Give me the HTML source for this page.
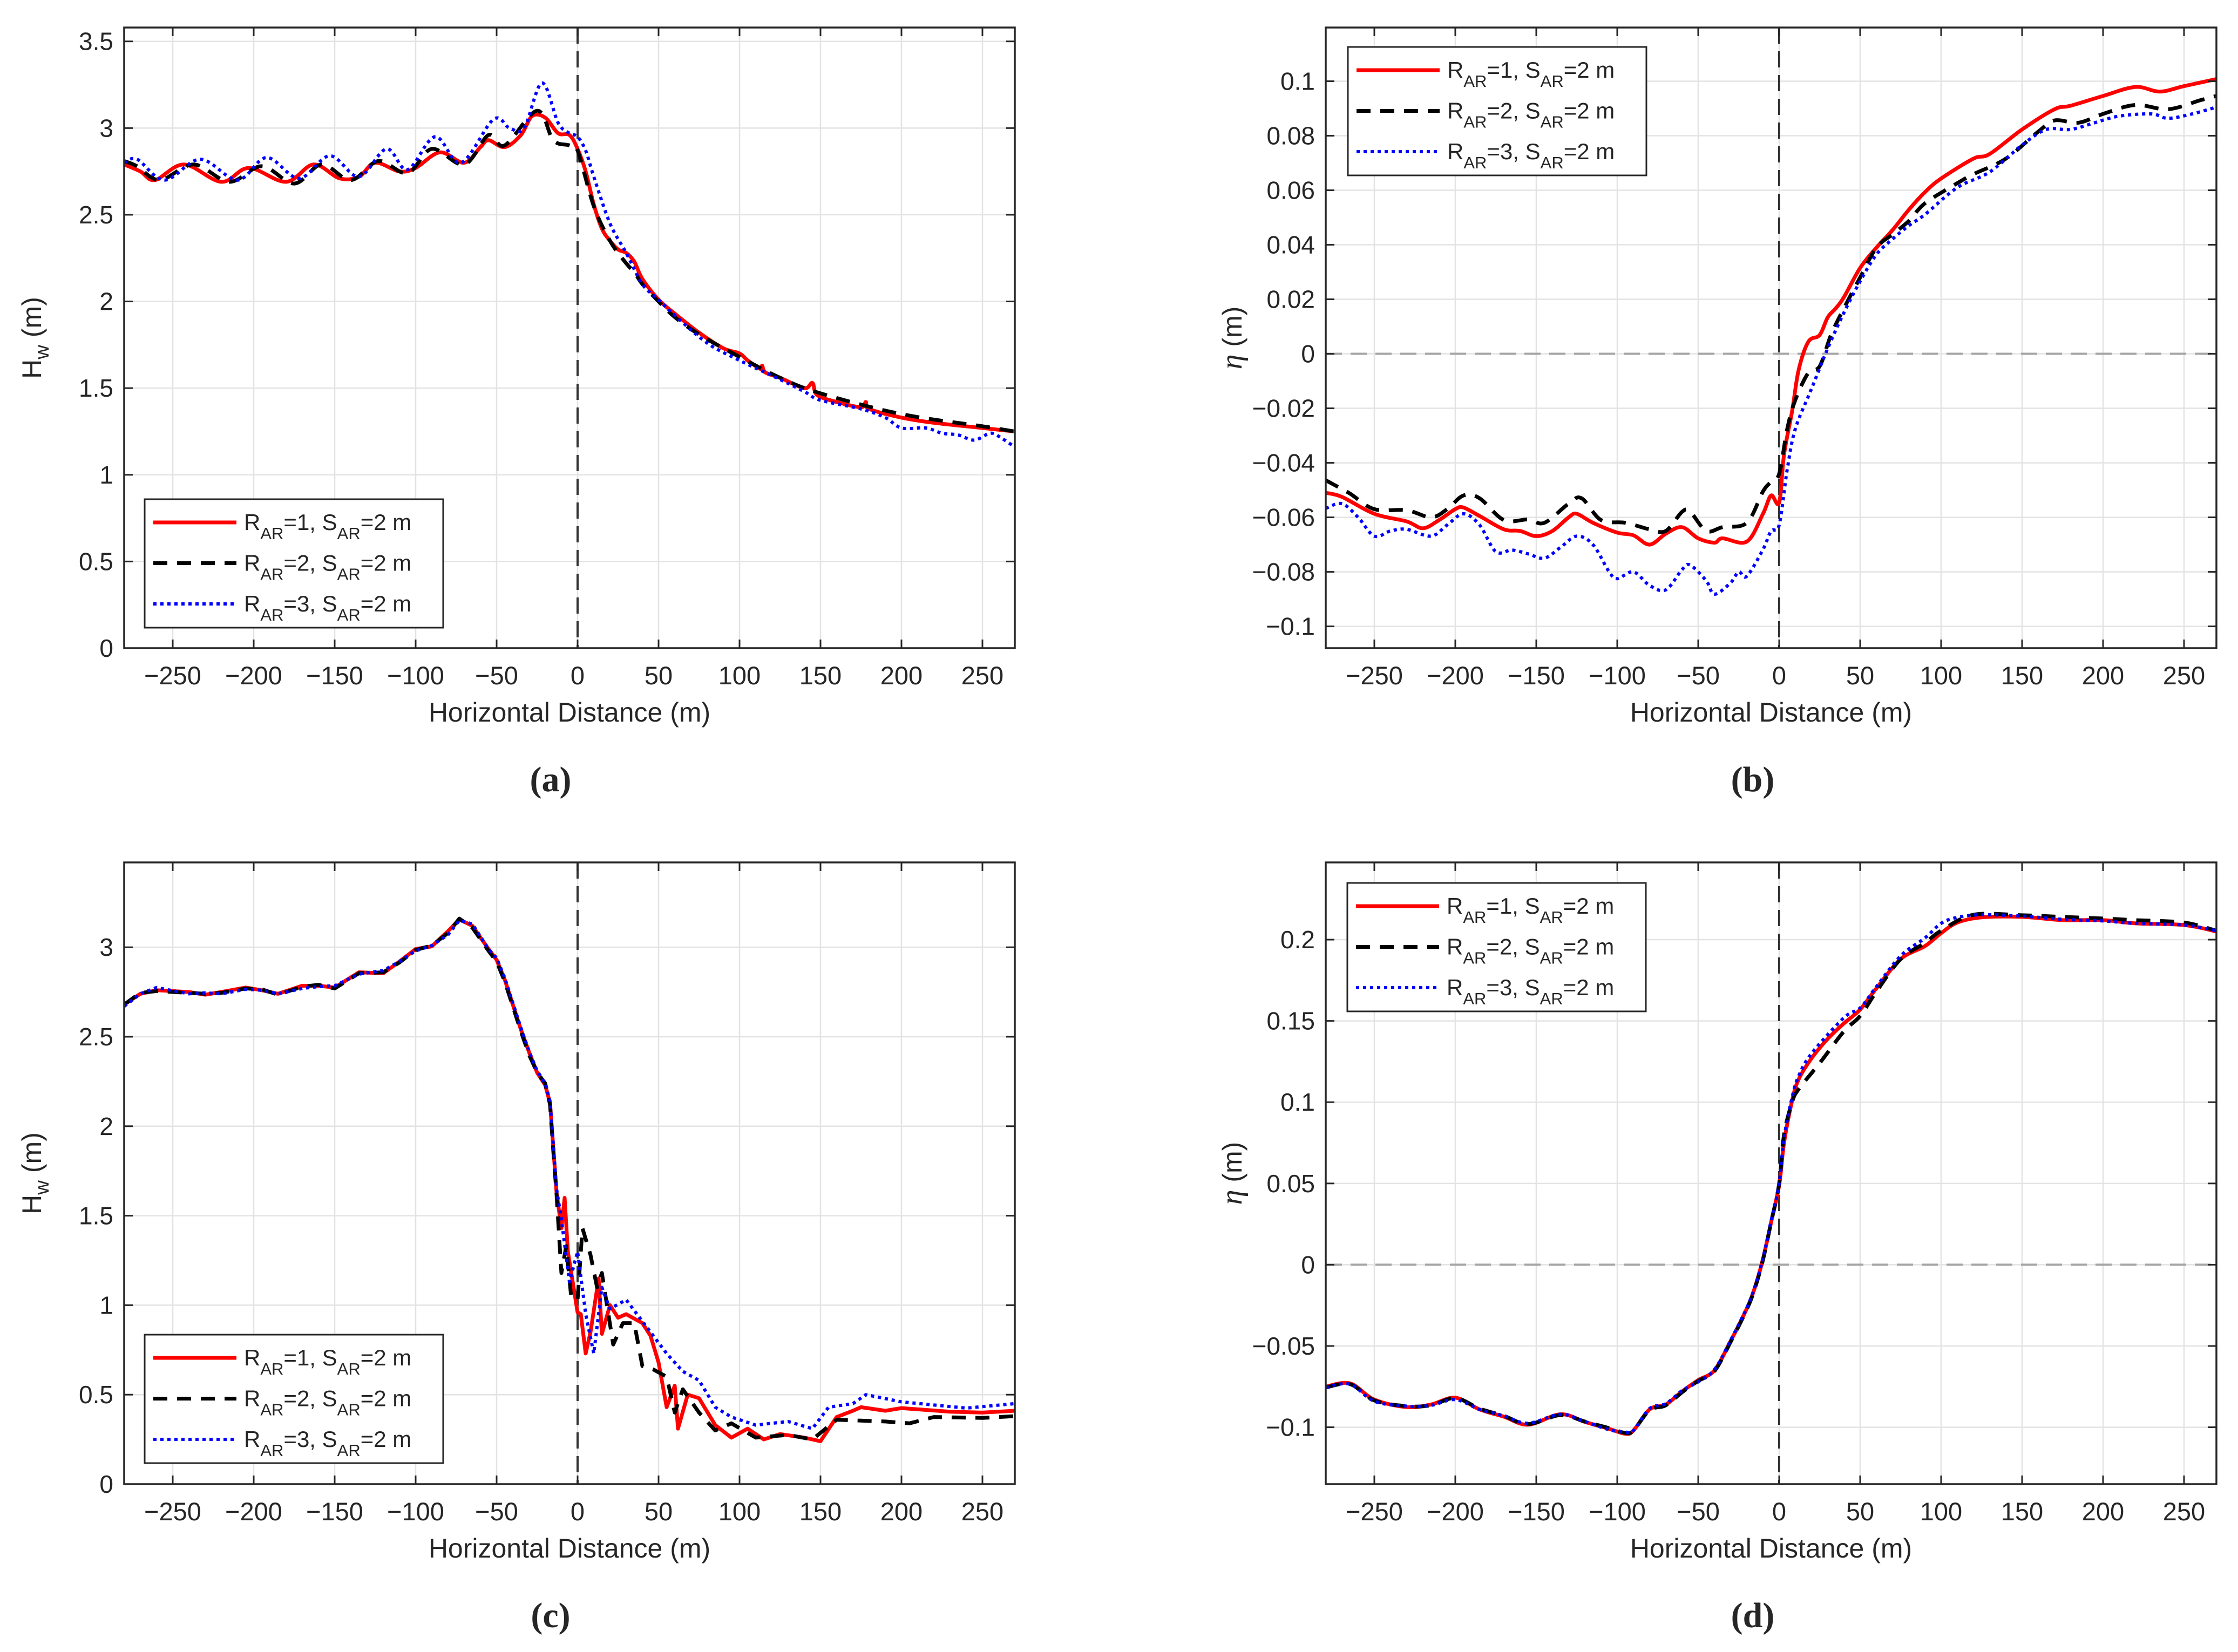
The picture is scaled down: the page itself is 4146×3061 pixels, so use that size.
<!DOCTYPE html>
<html><head><meta charset="utf-8">
<style>
html,body{margin:0;padding:0;background:#fff;}
svg{display:block;}
text{fill:#262626;}
</style></head>
<body>
<svg id="fig" xmlns="http://www.w3.org/2000/svg" width="4146" height="3061" viewBox="0 0 4146 3061" font-family="Liberation Sans, sans-serif">
<rect x="0" y="0" width="4146" height="3061" fill="#fff"/>
</svg>
<script>
// ---------- DATA ----------
const xTicks = [-250,-200,-150,-100,-50,0,50,100,150,200,250];
const yTicksA = [0,0.5,1,1.5,2,2.5,3,3.5];
const yTicksB = [-0.1,-0.08,-0.06,-0.04,-0.02,0,0.02,0.04,0.06,0.08,0.1];
const yTicksC = [0,0.5,1,1.5,2,2.5,3];
const yTicksD = [-0.1,-0.05,0,0.05,0.1,0.15,0.2];
const legendLabels = ["1","2","3"];

// Panel a
const aRedX = [-280,-270,-261,-243,-220,-203,-180,-163,-147,-135,-125,-110,-100,-85,-70,-60,-55,-45,-35,-28,-20,-12,-5,0,5,10,15,20,25,30,35,40,50,60,75,90,100,105,113,114,116,125,140,145,148,160,175,178,180,200,220,250,270];
const aRedY = [2.79,2.75,2.70,2.79,2.69,2.77,2.69,2.79,2.71,2.72,2.80,2.75,2.77,2.86,2.80,2.89,2.93,2.89,2.96,3.07,3.06,2.97,2.96,2.88,2.75,2.56,2.42,2.35,2.30,2.28,2.23,2.13,2.01,1.93,1.82,1.73,1.70,1.66,1.61,1.63,1.59,1.56,1.50,1.53,1.46,1.42,1.39,1.42,1.38,1.33,1.30,1.27,1.25];
const aBlkX = [-280,-272,-258,-237,-215,-195,-175,-158,-140,-123,-105,-90,-70,-55,-45,-25,-15,-5,0,10,20,30,35,40,50,60,75,100,125,150,200,250,270];
const aBlkY = [2.81,2.78,2.70,2.79,2.69,2.78,2.68,2.79,2.70,2.81,2.74,2.88,2.79,2.96,2.90,3.10,2.93,2.90,2.87,2.55,2.35,2.22,2.17,2.10,2.00,1.91,1.81,1.68,1.56,1.47,1.35,1.28,1.25];
const aBluX = [-280,-272,-255,-233,-210,-192,-172,-153,-135,-118,-105,-88,-72,-52,-42,-33,-22,-12,-5,0,5,10,20,30,40,50,60,80,100,125,140,150,175,190,200,215,225,235,245,255,262,270];
const aBluY = [2.80,2.82,2.70,2.82,2.70,2.83,2.71,2.84,2.72,2.88,2.76,2.95,2.80,3.05,3.00,3.00,3.26,3.03,2.97,2.95,2.87,2.72,2.45,2.28,2.10,2.01,1.92,1.76,1.66,1.55,1.48,1.43,1.38,1.33,1.27,1.27,1.24,1.23,1.20,1.24,1.21,1.16];

// Panel b
const bRedX = [-280,-270,-250,-230,-220,-210,-200,-195,-185,-170,-160,-150,-140,-130,-125,-115,-100,-90,-80,-70,-60,-50,-40,-35,-20,-10,-5,0,3,8,12,18,25,30,35,40,50,60,70,80,90,100,120,130,150,170,180,200,220,235,250,270];
const bRedY = [-0.051,-0.0525,-0.0587,-0.0615,-0.064,-0.061,-0.057,-0.0564,-0.0595,-0.0644,-0.065,-0.0669,-0.065,-0.060,-0.0587,-0.062,-0.0656,-0.0666,-0.070,-0.066,-0.0636,-0.0677,-0.0693,-0.0677,-0.0689,-0.0587,-0.052,-0.0546,-0.037,-0.021,-0.006,0.0044,0.0069,0.0134,0.0167,0.0208,0.0315,0.0389,0.0454,0.0528,0.0593,0.0643,0.0716,0.0733,0.0823,0.0897,0.091,0.0946,0.0979,0.0962,0.0982,0.1008];
const bBlkX = [-280,-275,-265,-250,-230,-215,-205,-195,-185,-170,-155,-145,-130,-122,-110,-95,-80,-70,-60,-55,-45,-35,-20,-10,-5,0,5,10,18,25,32,40,50,60,70,80,90,110,120,140,160,170,185,200,220,240,260,270];
const bBlkY = [-0.0464,-0.048,-0.0513,-0.057,-0.0574,-0.060,-0.057,-0.052,-0.053,-0.061,-0.0608,-0.062,-0.055,-0.053,-0.061,-0.062,-0.0644,-0.065,-0.058,-0.0579,-0.065,-0.0636,-0.062,-0.0505,-0.047,-0.044,-0.0275,-0.0169,-0.007,-0.0046,0.0069,0.0167,0.028,0.0389,0.0438,0.0487,0.0552,0.0626,0.0659,0.0716,0.0815,0.0856,0.0848,0.088,0.0913,0.0897,0.093,0.0946];
const bBluX = [-280,-270,-260,-250,-240,-230,-215,-205,-195,-185,-175,-165,-155,-145,-135,-125,-115,-105,-100,-90,-80,-70,-60,-55,-45,-40,-30,-25,-20,-10,-5,0,5,10,20,30,40,50,60,70,80,90,110,130,150,165,180,195,210,230,240,255,270];
const bBluY = [-0.0567,-0.055,-0.060,-0.0669,-0.065,-0.0644,-0.0669,-0.0628,-0.0587,-0.0628,-0.0726,-0.072,-0.0734,-0.075,-0.071,-0.0669,-0.070,-0.080,-0.0825,-0.080,-0.085,-0.0866,-0.0792,-0.0775,-0.0833,-0.0882,-0.084,-0.080,-0.0816,-0.0718,-0.065,-0.0628,-0.0423,-0.0275,-0.0128,0.002,0.0151,0.0266,0.0364,0.0421,0.047,0.0511,0.061,0.0667,0.0766,0.0823,0.0823,0.0848,0.0872,0.088,0.0864,0.088,0.0905];

// Panel c
const cRedX = [-280,-270,-260,-240,-230,-220,-205,-195,-185,-170,-160,-150,-135,-120,-110,-100,-90,-80,-73,-65,-55,-50,-45,-40,-35,-30,-25,-20,-17,-15,-13,-10,-8,-6,-3,0,2,5,8,13,15,20,25,30,40,45,50,55,60,62,68,75,85,95,105,115,125,140,150,160,170,175,190,200,230,250,270];
const cRedY = [2.68,2.74,2.76,2.75,2.735,2.75,2.775,2.76,2.74,2.785,2.785,2.775,2.86,2.855,2.92,2.99,3.005,3.09,3.155,3.12,2.99,2.93,2.82,2.68,2.54,2.415,2.30,2.23,2.13,1.88,1.63,1.43,1.60,1.30,1.13,0.96,0.95,0.73,0.85,1.15,0.84,1.00,0.93,0.95,0.90,0.83,0.68,0.43,0.55,0.31,0.50,0.48,0.33,0.26,0.31,0.25,0.28,0.26,0.24,0.375,0.41,0.43,0.41,0.425,0.405,0.40,0.41];
const cBlkX = [-280,-270,-260,-240,-230,-220,-205,-195,-185,-170,-160,-150,-135,-120,-110,-100,-90,-80,-73,-65,-55,-50,-45,-40,-35,-30,-25,-20,-17,-15,-13,-10,-7,-4,0,3,8,12,15,22,28,35,40,47,55,60,65,75,85,95,110,130,145,160,175,190,205,220,250,270];
const cBlkY = [2.68,2.745,2.755,2.745,2.74,2.745,2.77,2.765,2.735,2.78,2.79,2.77,2.855,2.86,2.915,2.985,3.01,3.08,3.16,3.11,2.98,2.92,2.81,2.67,2.53,2.40,2.30,2.24,2.12,1.86,1.62,1.18,1.33,1.05,1.03,1.43,1.28,1.10,1.18,0.78,0.90,0.90,0.66,0.64,0.60,0.40,0.53,0.40,0.30,0.34,0.26,0.275,0.25,0.36,0.355,0.35,0.34,0.375,0.37,0.38];
const cBluX = [-280,-270,-260,-240,-230,-220,-205,-195,-185,-170,-160,-150,-135,-120,-110,-100,-90,-80,-73,-65,-55,-50,-45,-40,-35,-30,-25,-20,-17,-15,-13,-10,-5,0,5,10,15,20,30,45,55,65,75,85,95,110,130,145,155,170,178,200,240,270];
const cBluY = [2.67,2.74,2.775,2.74,2.745,2.74,2.765,2.76,2.74,2.77,2.78,2.785,2.85,2.87,2.92,2.98,3.01,3.07,3.15,3.13,2.99,2.94,2.83,2.69,2.55,2.42,2.31,2.24,2.14,1.90,1.65,1.48,1.13,1.30,0.95,0.73,1.10,0.98,1.03,0.85,0.73,0.63,0.58,0.43,0.375,0.33,0.35,0.31,0.43,0.45,0.50,0.46,0.425,0.45];

// Panel d
const dRedX = [-280,-265,-250,-230,-215,-200,-185,-170,-155,-135,-120,-105,-95,-90,-80,-70,-60,-50,-40,-30,-20,-15,-10,-5,0,3,8,12,20,30,40,50,60,75,90,100,110,125,150,175,200,220,250,270];
const dRedY = [-0.075,-0.073,-0.083,-0.0876,-0.086,-0.0818,-0.089,-0.0935,-0.0984,-0.092,-0.0967,-0.101,-0.104,-0.102,-0.089,-0.086,-0.078,-0.071,-0.065,-0.047,-0.027,-0.014,0.0036,0.026,0.049,0.075,0.101,0.114,0.127,0.139,0.1485,0.157,0.17,0.188,0.196,0.204,0.2105,0.2137,0.214,0.212,0.212,0.21,0.209,0.205];
const dBlkX = [-280,-265,-250,-230,-215,-200,-185,-170,-155,-135,-120,-105,-95,-90,-80,-70,-60,-50,-40,-30,-20,-15,-10,-5,0,3,8,12,25,40,50,60,75,90,100,120,150,175,200,220,250,270];
const dBlkY = [-0.0755,-0.0735,-0.0835,-0.087,-0.0865,-0.082,-0.0885,-0.093,-0.098,-0.0925,-0.0965,-0.1005,-0.1035,-0.102,-0.0895,-0.0865,-0.0785,-0.0715,-0.0655,-0.0475,-0.0275,-0.0145,0.003,0.026,0.05,0.08,0.1,0.108,0.124,0.1436,0.153,0.168,0.188,0.198,0.2055,0.2153,0.215,0.214,0.213,0.212,0.2105,0.2055];
const dBluX = [-280,-265,-250,-230,-215,-200,-185,-170,-155,-135,-120,-105,-95,-90,-80,-70,-60,-50,-40,-30,-20,-15,-10,-5,0,3,8,12,20,40,50,60,75,90,100,110,125,150,175,200,220,250,270];
const dBluY = [-0.0755,-0.0735,-0.084,-0.087,-0.0865,-0.083,-0.089,-0.093,-0.0975,-0.092,-0.0965,-0.1015,-0.103,-0.102,-0.0885,-0.0855,-0.0775,-0.072,-0.0645,-0.0465,-0.0265,-0.0135,0.004,0.027,0.05,0.078,0.103,0.116,0.130,0.152,0.158,0.171,0.19,0.201,0.21,0.2137,0.2153,0.2145,0.2125,0.2115,0.21,0.209,0.2055];

// ---------- DRAW ----------
const NS = "http://www.w3.org/2000/svg";
const svg = document.getElementById('fig');
function mk(tag, attrs, parent){
  const e = document.createElementNS(NS, tag);
  for (const k in attrs) e.setAttribute(k, attrs[k]);
  (parent||svg).appendChild(e);
  return e;
}
function fmt(v){ const s = String(+v.toFixed(3)); return s.replace('-', '\u2212'); }
function pathFor(pts, smooth){
  if (!smooth) return pts.map((p,k)=>(k?'L':'M')+p[0].toFixed(1)+' '+p[1].toFixed(1)).join(' ');
  let d = 'M'+pts[0][0].toFixed(1)+' '+pts[0][1].toFixed(1);
  for (let i=0;i<pts.length-1;i++){
    const p0 = pts[Math.max(0,i-1)], p1 = pts[i], p2 = pts[i+1], p3 = pts[Math.min(pts.length-1,i+2)];
    const c1x = p1[0]+(p2[0]-p0[0])/6, c1y = p1[1]+(p2[1]-p0[1])/6;
    const c2x = p2[0]-(p3[0]-p1[0])/6, c2y = p2[1]-(p3[1]-p1[1])/6;
    d += ' C'+c1x.toFixed(1)+' '+c1y.toFixed(1)+' '+c2x.toFixed(1)+' '+c2y.toFixed(1)+' '+p2[0].toFixed(1)+' '+p2[1].toFixed(1);
  }
  return d;
}

const panels = [
 {id:'a', L:230, R:1880, T:51, B:1201, ymin:0, ymax:3.58, yt:yTicksA, ylab:'H', zero:false, smooth:true,
  series:[[aRedX,aRedY],[aBlkX,aBlkY],[aBluX,aBluY]], leg:[268,925], lab:[1020,1444]},
 {id:'b', L:2456, R:4106, T:51, B:1201, ymin:-0.108, ymax:0.1197, yt:yTicksB, ylab:'eta', zero:true, smooth:true,
  series:[[bRedX,bRedY],[bBlkX,bBlkY],[bBluX,bBluY]], leg:[2497,87], lab:[3247,1444]},
 {id:'c', L:230, R:1880, T:1598, B:2750, ymin:0, ymax:3.474, yt:yTicksC, ylab:'H', zero:false, smooth:false,
  series:[[cRedX,cRedY],[cBlkX,cBlkY],[cBluX,cBluY]], leg:[268,2473], lab:[1020,2993]},
 {id:'d', L:2456, R:4106, T:1598, B:2750, ymin:-0.135, ymax:0.2475, yt:yTicksD, ylab:'eta', zero:true, smooth:true,
  series:[[dRedX,dRedY],[dBlkX,dBlkY],[dBluX,dBluY]], leg:[2496,1636], lab:[3247,2993]}
];
const styles = [
 {stroke:'#ff0000', w:7, dash:null, name:'red'},
 {stroke:'#000000', w:7, dash:'26 18', name:'black'},
 {stroke:'#0000ff', w:6, dash:'6 7', name:'blue'}
];
const XMIN=-280, XMAX=270;
const SERIF = 'font-family:"Liberation Serif",serif;';

panels.forEach(p=>{
  const g = mk('g', {});
  
  
  const sx = v => p.L + (v-XMIN)/(XMAX-XMIN)*(p.R-p.L);
  const sy = v => p.B - (v-p.ymin)/(p.ymax-p.ymin)*(p.B-p.T);
  const grid = mk('g', {}, g);
  
  
  xTicks.forEach(t=>{ mk('line',{x1:sx(t),x2:sx(t),y1:p.T,y2:p.B,stroke:'#e3e3e3','stroke-width':2.5},grid); });
  p.yt.forEach(t=>{ mk('line',{x1:p.L,x2:p.R,y1:sy(t),y2:sy(t),stroke:'#e3e3e3','stroke-width':2.5},grid); });
  if (p.zero){
    const z = mk('line',{x1:p.L,x2:p.R,y1:sy(0),y2:sy(0),stroke:'#a6a6a6','stroke-width':4,'stroke-dasharray':'30 16'},g);
    
    
  }
  const v0 = mk('line',{x1:sx(0),x2:sx(0),y1:p.T,y2:p.B,stroke:'#333','stroke-width':4,'stroke-dasharray':'30 14'},g);
  
  
  const cp = mk('clipPath',{id:'clip'+p.id},g);
  mk('rect',{x:p.L,y:p.T,width:p.R-p.L,height:p.B-p.T},cp);
  p.series.forEach((s,i)=>{
    const st = styles[i];
    const pts = s[0].map((x,k)=>[sx(x), sy(s[1][k])]);
    const path = mk('path',{d:pathFor(pts,p.smooth),fill:'none',stroke:st.stroke,'stroke-width':st.w,'stroke-linejoin':'round','clip-path':'url(#clip'+p.id+')'},g);
    if (st.dash) path.setAttribute('stroke-dasharray', st.dash);
    
    
  });
  const box = mk('rect',{x:p.L,y:p.T,width:p.R-p.L,height:p.B-p.T,fill:'none',stroke:'#262626','stroke-width':3.5},g);
  
  
  xTicks.forEach(t=>{
    mk('line',{x1:sx(t),x2:sx(t),y1:p.B,y2:p.B-16,stroke:'#262626','stroke-width':3},g);
    mk('line',{x1:sx(t),x2:sx(t),y1:p.T,y2:p.T+16,stroke:'#262626','stroke-width':3},g);
    const tx = mk('text',{x:sx(t),y:p.B+67,'font-size':47,'text-anchor':'middle'},g);
    tx.textContent = fmt(t);
    
    
  });
  p.yt.forEach(t=>{
    mk('line',{x1:p.L,x2:p.L+16,y1:sy(t),y2:sy(t),stroke:'#262626','stroke-width':3},g);
    mk('line',{x1:p.R,x2:p.R-16,y1:sy(t),y2:sy(t),stroke:'#262626','stroke-width':3},g);
    const ty = mk('text',{x:p.L-20,y:sy(t)+16,'font-size':46,'text-anchor':'end'},g);
    ty.textContent = fmt(t);
    
    
  });
  const xt = mk('text',{x:(p.L+p.R)/2,y:p.B+136,'font-size':50,'text-anchor':'middle'},g);
  xt.textContent = 'Horizontal Distance (m)';
  
  
  const cy = (p.T+p.B)/2;
  const yx = p.id==='a'||p.id==='c' ? 76 : 2300;
  const ytl = mk('text',{x:yx,y:cy,'font-size':50,'text-anchor':'middle',transform:'rotate(-90 '+yx+' '+cy+')'},g);
  
  
  if (p.ylab==='H'){
    const a = mk('tspan',{},ytl); a.textContent='H';
    const b = mk('tspan',{'font-size':37,dy:14},ytl); b.textContent='w';
    const c = mk('tspan',{dy:-14},ytl); c.textContent=' (m)';
  } else {
    const a = mk('tspan',{style:SERIF+'font-style:italic;','font-size':56},ytl); a.textContent='\u03b7';
    const c = mk('tspan',{},ytl); c.textContent=' (m)';
  }
  const lx = p.leg[0], ly = p.leg[1];
  const lg = mk('g',{},g);
  
  
  mk('rect',{x:lx,y:ly,width:553,height:238,fill:'#fff',stroke:'#262626','stroke-width':3},lg);
  legendLabels.forEach((r,i)=>{
    const ry = ly + 43 + i*75.5;
    const st = styles[i];
    const ln = mk('line',{x1:lx+16,x2:lx+170,y1:ry,y2:ry,stroke:st.stroke,'stroke-width':st.w},lg);
    if (st.dash) ln.setAttribute('stroke-dasharray', st.dash);
    const t = mk('text',{x:lx+184,y:ry+14,'font-size':42,fill:'#000'},lg);
    
    
    const s1 = mk('tspan',{},t); s1.textContent='R';
    const s2 = mk('tspan',{'font-size':31,dy:17},t); s2.textContent='AR';
    const s3 = mk('tspan',{dy:-17},t); s3.textContent='='+r+', S';
    const s4 = mk('tspan',{'font-size':31,dy:17},t); s4.textContent='AR';
    const s5 = mk('tspan',{dy:-17},t); s5.textContent='=2 m';
  });
  const sl = mk('text',{x:p.lab[0],y:p.lab[1]+22,'font-size':66,'text-anchor':'middle',style:SERIF+'font-weight:bold;',fill:'#000'},g);
  sl.textContent = '('+p.id+')';
  
  
});
</script>
</body></html>
